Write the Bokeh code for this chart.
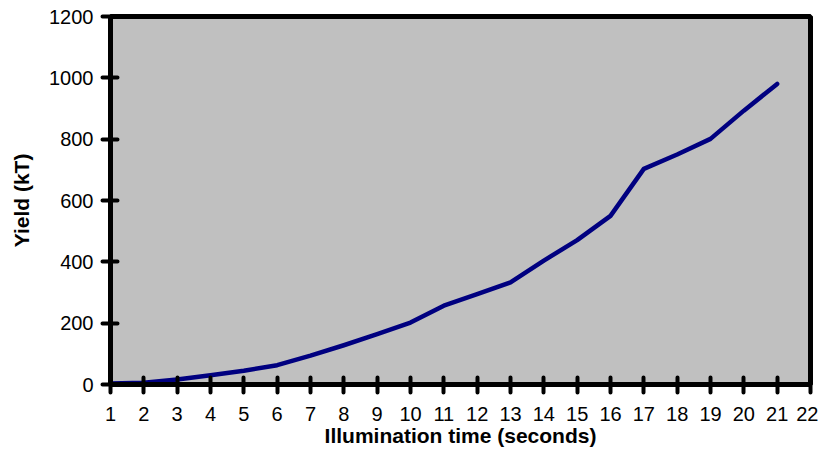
from bokeh.plotting import figure
from bokeh.models import Range1d, FixedTicker
from bokeh.embed import file_html
from bokeh.resources import INLINE

# Data
time_s = [1, 2, 3, 4, 5, 6, 7, 8, 9, 10, 11, 12, 13, 14, 15, 16, 17, 18, 19, 20, 21]
yield_kt = [3, 6, 16, 30, 45, 63, 94, 128, 164, 202, 257, 295, 333, 404, 471, 550, 703, 750, 801, 893, 980]
x_ticks = list(range(1, 23))
y_ticks = [0, 200, 400, 600, 800, 1000, 1200]

FONT = "Liberation Sans"

p = figure(width=818, height=453, output_backend="svg", toolbar_location=None,
           x_range=Range1d(1, 22), y_range=Range1d(0, 1200),
           min_border_left=110, min_border_right=8, min_border_top=16, min_border_bottom=69)

p.background_fill_color = "#C0C0C0"
p.border_fill_color = "white"
p.outline_line_color = "black"
p.outline_line_width = 5
p.xgrid.visible = False
p.ygrid.visible = False

p.line(time_s, yield_kt, line_color="#000080", line_width=4.5, line_join="round", line_cap="round")

for ax in (p.xaxis[0], p.yaxis[0]):
    ax.axis_line_width = 5
    ax.axis_line_color = "black"
    ax.major_tick_line_width = 4
    ax.major_tick_line_cap = "round"
    ax.major_tick_line_color = "black"
    ax.minor_tick_line_color = None
    ax.major_tick_in = 7
    ax.major_tick_out = 8
    ax.major_label_text_font = FONT
    ax.major_label_text_font_size = "20px"
    ax.major_label_text_color = "black"
    ax.axis_label_text_font = FONT
    ax.axis_label_text_font_style = "bold"
    ax.axis_label_text_font_size = "21px"
    ax.axis_label_text_color = "black"

p.xaxis.ticker = FixedTicker(ticks=x_ticks)
p.yaxis.ticker = FixedTicker(ticks=y_ticks)
p.xaxis.axis_label = "Illumination time (seconds)"
p.yaxis.axis_label = "Yield (kT)"
p.xaxis.major_label_standoff = 14
p.yaxis.major_label_standoff = 9
p.xaxis.axis_label_standoff = 0
p.yaxis.axis_label_standoff = 13

open("out.html", "w").write(file_html(p, INLINE))
